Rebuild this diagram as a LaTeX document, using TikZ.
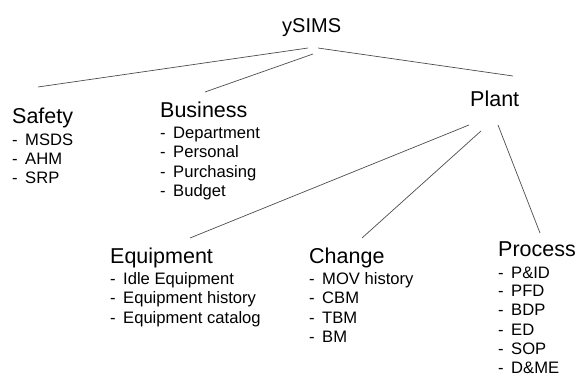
\documentclass[tikz,border=0pt]{standalone}
\usepackage{fontspec}
\setmainfont{Liberation Sans}
\begin{document}
\begin{tikzpicture}[x=1pt,y=-1pt,
  head/.style={inner sep=0pt,anchor=base west,font=\fontsize{21.5}{22}\selectfont},
  title/.style={inner sep=0pt,anchor=base west,font=\fontsize{20}{20}\selectfont},
  item/.style={inner sep=0pt,anchor=base west,font=\fontsize{16.6}{17}\selectfont},
  link/.style={draw=black!70,line width=0.7pt}]
\useasboundingbox (0,0) rectangle (579,377);
\newcommand\dashitem[1]{\makebox[13pt][l]{-}#1}
% headings
\node[title] (ysims) at (282,33) {ySIMS};
\node[head] (safety) at (12,124) {Safety};
\node[head] (business) at (160,118) {Business};
\node[head] (plant) at (470,107) {Plant};
\node[head] (equipment) at (110,264) {Equipment};
\node[head] (change) at (309,263) {Change};
\node[head] (process) at (498,257) {Process};
% items
\foreach \t [count=\i] in {MSDS,AHM,SRP}
  \node[item] (s\i) at (12,{145.5+19.2*(\i-1)}) {\dashitem{\t}};
\foreach \t [count=\i] in {Department,Personal,Purchasing,Budget}
  \node[item] (b\i) at (160,{138.5+19.3*(\i-1)}) {\dashitem{\t}};
\foreach \t [count=\i] in {Idle Equipment,Equipment history,Equipment catalog}
  \node[item] (e\i) at (110,{284.5+19.3*(\i-1)}) {\dashitem{\t}};
\foreach \t [count=\i] in {MOV history,CBM,TBM,BM}
  \node[item] (c\i) at (309,{284.5+19.3*(\i-1)}) {\dashitem{\t}};
\foreach \t [count=\i] in {P\&ID,PFD,BDP,ED,SOP,D\&ME}
  \node[item] (p\i) at (498,{278+19*(\i-1)}) {\dashitem{\t}};
% connectors
\draw[link] ([shift={(26,15)}]ysims.base west) -- ([shift={(26,-37)}]safety.base west);
\draw[link] ([shift={(31,21)}]ysims.base west) -- ([shift={(45,-26)}]business.base west);
\draw[link] ([shift={(36,15)}]ysims.base west) -- ([shift={(43,-31)}]plant.base west);
\draw[link] ([shift={(-1,18)}]plant.base west) -- ([shift={(80,-26)}]equipment.base west);
\draw[link] ([shift={(11,24)}]plant.base west) -- ([shift={(53,-25)}]change.base west);
\draw[link] ([shift={(28,18)}]plant.base west) -- ([shift={(42,-24)}]process.base west);
\end{tikzpicture}
\end{document}
